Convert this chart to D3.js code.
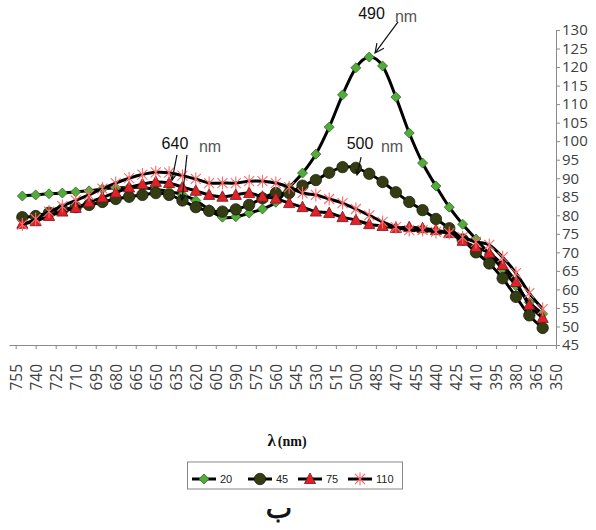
<!DOCTYPE html>
<html><head><meta charset="utf-8">
<script src="https://cdn.jsdelivr.net/npm/d3@7"></script>
<style>body{margin:0;background:#fff}svg{display:block}</style>
</head><body><svg id="c" width="596" height="530"></svg>
<script>
// ---- data ----
const wavelengths = [750,740,730,720,710,700,690,680,670,660,650,640,630,620,610,600,590,580,570,560,550,540,530,520,510,500,490,480,470,460,450,440,430,420,410,400,390,380,370,360];
const s20  = [85.2,85.5,85.8,86,86.3,86.6,87.1,87.4,87.5,87.5,87,86.5,85.5,84,81.5,79.5,79.6,80.6,81.7,83.5,87.5,91.4,96.5,103.8,112.5,119.8,122.7,120.3,111.9,102.2,94.1,87.9,82.2,77.6,73.6,69.5,65.5,61,56.5,53.4];
const s45  = [79.5,79.8,80.7,81.5,82.2,82.8,83.6,84.4,85,85.5,86,85.5,84,82.2,81.2,81,81.6,82.8,84.6,86,86,88,89.5,91.5,93,92.8,91.2,89,86.2,83.6,81.4,79,76.5,73.5,70,67,63,58,53,49.6];
const s75  = [77.7,78.4,79.8,81,82,83.5,84.8,86.1,87.5,88.4,89,88.7,87.6,86.6,85.5,85,85.5,86,85,84.5,83.3,82.2,81,80.6,79.5,78.7,77.6,77.1,76.6,76.8,76.5,76,75.2,73.1,71.4,69.8,66.6,62,55.8,52.3];
const s110 = [77.5,79,81,82.5,84,85.5,87.2,88.7,90,91,91.6,91.5,90.7,89.8,88.7,88.7,88.7,89.2,89.2,88.7,87.6,86,85.5,84.4,83.3,81.7,80,78.2,76.8,76,76,75.5,75.2,74.1,72.8,72,68.7,64.4,59,54.7];
const seriesNames = ["20","45","75","110"];
const xTicks = [755,740,725,710,695,680,665,650,635,620,605,590,575,560,545,530,515,500,485,470,455,440,425,410,395,380,365,350];
const yTicks = [45,50,55,60,65,70,75,80,85,90,95,100,105,110,115,120,125,130];
const xTitle = "(nm)";
const caption = "ب";
// annotations: label, text position (λ,value), arrows [[λ1,v1,λ2,v2],...]
const annLabels = ["490","500","640"];
const annText = [[488.3,133],[496.9,97.9],[635.6,97.9]];
const annNm = [[470.7,132.2],[481.2,97.1],[617.6,97.1]];
const annArrows = [[[468.4,132.2,485.6,123.8]],[[496.1,95.7,499.1,90.9]],[[634.1,96.3,637.8,89.5],[626.6,96.3,630.3,84.1]]];

// ---- chart ----
const svg = d3.select("#c");
const x = d3.scaleLinear().domain([760,350]).range([9,556]);
const y = d3.scaleLinear().domain([45,130]).range([345,30]);
const axisCol = "#8a8a8a", txtCol = "#404040";

const gx = svg.append("g").attr("transform","translate(0,345)")
  .call(d3.axisBottom(x).tickValues(xTicks).tickSize(4).tickSizeOuter(0).tickFormat(d3.format("d")));
gx.select(".domain").attr("stroke",axisCol);
gx.selectAll(".tick line").attr("stroke",axisCol);
gx.selectAll(".tick text").attr("fill",txtCol).style("font","15.5px 'Open Sans'")
  .attr("transform","rotate(-90)").attr("text-anchor","end")
  .attr("x",-19).attr("y",0).attr("dy","0.36em");

const gy = svg.append("g").attr("transform","translate(556,0)")
  .call(d3.axisRight(y).tickValues(yTicks).tickSize(4).tickSizeOuter(0));
gy.select(".domain").attr("stroke",axisCol);
gy.selectAll(".tick line").attr("stroke",axisCol);
gy.selectAll(".tick text").attr("fill",txtCol).style("font","15px 'Open Sans'").attr("x",6);

// markers
const markers = {
  "20": (g)=>g.append("path").attr("d","M0,-5L5,0L0,5L-5,0Z").attr("fill","#52ab3a").attr("stroke","#2f6a20").attr("stroke-width",0.8),
  "45": (g)=>g.append("circle").attr("r",5.7).attr("fill","#343c14").attr("stroke","#1c2008").attr("stroke-width",0.8),
  "75": (g)=>g.append("path").attr("d","M0,-6L5.6,4.5L-5.6,4.5Z").attr("fill","#e0212a").attr("stroke","#7a1515").attr("stroke-width",0.8),
  "110": (g)=>g.append("path").attr("d","M-5,-5L5,5M-5,5L5,-5M0,-6.5L0,6.5").attr("fill","none").attr("stroke","#ff6a6a").attr("stroke-width",1.1)
};
const allSeries = [s20,s45,s75,s110];
const line = d3.line().x((d,i)=>x(wavelengths[i])).y(d=>y(d)).curve(d3.curveCardinal.tension(0));
allSeries.forEach((s,k)=>{
  const g = svg.append("g");
  g.append("path").attr("d",line(s)).attr("fill","none").attr("stroke","#000").attr("stroke-width",3);
  s.forEach((v,i)=>{
    const m = g.append("g").attr("transform",`translate(${x(wavelengths[i])},${y(v)})`);
    markers[seriesNames[k]](m);
  });
});

// annotations
annLabels.forEach((lab,k)=>{
  svg.append("text").attr("x",x(annText[k][0])).attr("y",y(annText[k][1])).attr("text-anchor","middle")
    .style("font","16px 'Liberation Sans'").attr("fill","#111").text(lab);
  svg.append("text").attr("x",x(annNm[k][0])).attr("y",y(annNm[k][1]))
    .style("font","16px 'Liberation Sans'").attr("fill","#555").text("nm");
  annArrows[k].forEach(a=>{
    const x1=x(a[0]),y1=y(a[1]),x2=x(a[2]),y2=y(a[3]);
    svg.append("line").attr("x1",x1).attr("y1",y1).attr("x2",x2).attr("y2",y2).attr("stroke","#111").attr("stroke-width",1.2);
    const ang=Math.atan2(y2-y1,x2-x1), L=k===0?10:6, w=0.45;
    const p1=[x2-L*Math.cos(ang-w),y2-L*Math.sin(ang-w)], p2=[x2-L*Math.cos(ang+w),y2-L*Math.sin(ang+w)];
    svg.append("path").attr("d",`M${p1}L${x2},${y2}L${p2}`).attr("fill","none").attr("stroke","#111").attr("stroke-width",1.2);
  });
});

// x title
const t = svg.append("text").attr("x",287).attr("y",446).attr("text-anchor","middle")
  .style("font","bold 14px 'Liberation Serif'").attr("fill","#111");
t.append("tspan").style("font-size","17px").text("λ");
t.append("tspan").attr("dx",2).text(xTitle);

// legend
const lg = svg.append("g");
lg.append("rect").attr("x",187.5).attr("y",462).attr("width",215).attr("height",27).attr("fill","#fff").attr("stroke","#888");
const legX = [192,248,298,348];
seriesNames.forEach((n,k)=>{
  const lx = legX[k], ly = 479;
  lg.append("line").attr("x1",lx).attr("x2",lx+24).attr("y1",ly).attr("y2",ly).attr("stroke","#000").attr("stroke-width",3);
  markers[n](lg.append("g").attr("transform",`translate(${lx+12},${ly})`));
  lg.append("text").attr("x",lx+28).attr("y",ly+4).style("font","11px 'Liberation Sans'").attr("fill","#222").text(n);
});

svg.append("text").attr("x",279).attr("y",518).attr("text-anchor","middle").attr("direction","rtl")
  .style("font","28px 'DejaVu Sans'").attr("fill","#111").attr("stroke","#111").attr("stroke-width",0.8).text(caption);
</script></body></html>
